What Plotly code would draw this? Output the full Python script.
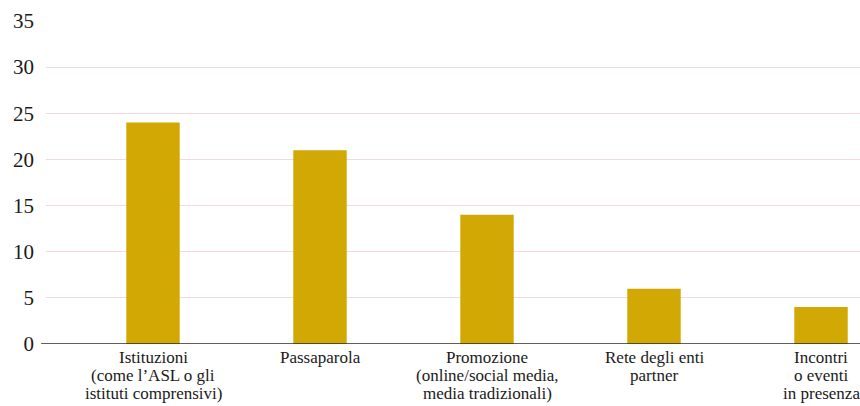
import plotly.graph_objects as go

# Survey: how respondents learned about the service
categories = [
    "Istituzioni<br>(come l’ASL o gli<br>istituti comprensivi)",
    "Passaparola",
    "Promozione<br>(online/social media,<br>media tradizionali)",
    "Rete degli enti<br>partner",
    "Incontri<br>o eventi<br>in presenza",
]
values = [24, 21, 14, 6, 4]
y_ticks = [0, 5, 10, 15, 20, 25, 30, 35]

BAR_COLOR = "#D2A805"
GRID_COLOR = "#F6D7DC"
TEXT_COLOR = "#1a1a1a"
FONT = "Liberation Serif, Times New Roman, serif"
LABEL_SIZE = 17
LINE_STEP = 18  # tight leading for the wrapped category labels

fig = go.Figure(
    go.Bar(
        x=categories,
        y=values,
        marker=dict(color=BAR_COLOR, line=dict(width=0)),
        width=0.32,
        hoverinfo="y",
    )
)

# Category labels drawn line by line under each bar so the leading stays tight
annotations = []
for cat in categories:
    for i, line in enumerate(cat.split("<br>")):
        annotations.append(
            dict(
                x=cat,
                y=0,
                xref="x",
                yref="y",
                text=line,
                showarrow=False,
                xanchor="center",
                yanchor="top",
                yshift=-3 - i * LINE_STEP,
                borderpad=0,
                font=dict(size=LABEL_SIZE, family=FONT, color=TEXT_COLOR),
            )
        )

fig.update_layout(
    width=860,
    height=406,
    margin=dict(l=46, r=0, t=21, b=62),
    paper_bgcolor="white",
    plot_bgcolor="white",
    showlegend=False,
    font=dict(family=FONT, color=TEXT_COLOR),
    xaxis=dict(
        type="category",
        range=[-0.6407, 4.2335],
        showgrid=False,
        showline=False,
        zeroline=False,
        ticks="",
        showticklabels=False,
        automargin=False,
        fixedrange=True,
    ),
    yaxis=dict(
        range=[0, 35],
        tickvals=y_ticks,
        showgrid=True,
        gridcolor=GRID_COLOR,
        gridwidth=1,
        zeroline=False,
        showline=False,
        ticks="",
        tickfont=dict(size=21, family=FONT, color=TEXT_COLOR),
        ticklabelstandoff=11,
        automargin=False,
        fixedrange=True,
    ),
    annotations=annotations,
    shapes=[
        dict(
            type="line",
            xref="paper",
            yref="y",
            x0=-0.006,
            x1=1,
            y0=0,
            y1=0,
            line=dict(color="#2a2a2a", width=1.6),
            layer="above",
        )
    ],
)

fig.write_html("out.html")
